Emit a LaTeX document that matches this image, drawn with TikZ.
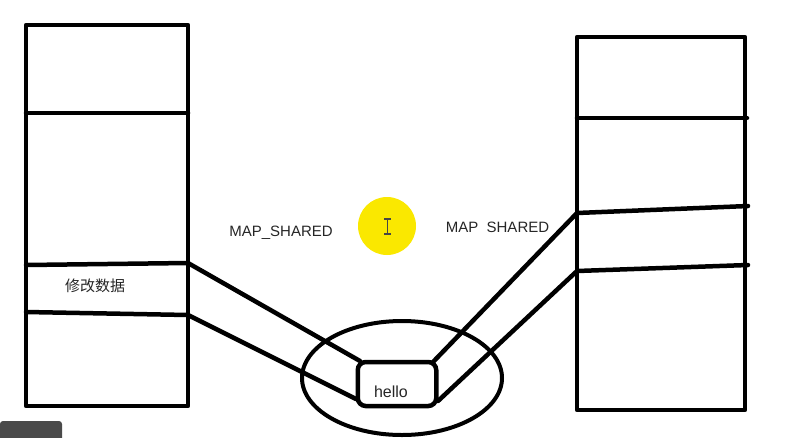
\documentclass[tikz,border=0pt]{standalone}
\usepackage{fontspec}
\setmainfont{Liberation Sans}
\newfontfamily\cjk{Noto Sans CJK SC}
\definecolor{hiyellow}{RGB}{250,232,0}
\definecolor{taskgray}{RGB}{74,74,74}
\definecolor{cursorgray}{RGB}{70,70,70}
\begin{document}
\begin{tikzpicture}[x=1pt,y=-1pt,
  thick line/.style={line width=4.5pt,line cap=round,line join=round},
  lbl/.style={font=\fontsize{15}{18}\selectfont,anchor=base,inner sep=0pt,text=black!85}]
\useasboundingbox (0,0) rectangle (808,437);
\fill[white] (0,0) rectangle (808,437);
% taskbar fragment
\fill[taskgray,rounded corners=3pt] (0,421) -- (62,421) -- (62,445) -- (0,445) -- cycle;
% yellow cursor highlight
\fill[hiyellow] (387,226) circle[radius=29pt];
\draw[cursorgray,line width=1.6pt] (387.5,219) -- (387.5,234)
  (384,219) -- (391,219) (384,234) -- (391,234);
% left memory block
\draw[thick line] (26,25) rectangle (188,406);
\draw[thick line] (26,113) -- (188,113);
\coordinate (L1) at (188,263);
\coordinate (L2) at (188,315);
\draw[thick line] (26,265) -- (L1);
\draw[thick line] (26,312) -- (L2);
\node[lbl,font=\cjk\fontsize{15}{18}\selectfont] (edit) at (95,291) {修改数据};
% right memory block
\draw[thick line] (577,37) rectangle (745,410);
\draw[thick line] (577,118) -- (747,118);
\coordinate (R1) at (577,213);
\coordinate (R2) at (577,271);
\draw[thick line] (R1) -- (748,206);
\draw[thick line] (R2) -- (748,265);
% ellipse and shared page
\draw[line width=4pt] (402,378) ellipse[x radius=100pt,y radius=57pt];
\node[draw,line width=4.5pt,rounded corners=8pt,minimum width=78.5pt,minimum height=44pt,inner sep=0pt] (hello) at (397,384) {};
\node[lbl,font=\fontsize{16}{19}\selectfont] (hellotext) at (391,397) {hello};
\coordinate (H1) at (360,361);
\coordinate (H2) at (356,399);
\coordinate (H3) at (433,362);
\coordinate (H4) at (438,401);
\draw[thick line] (L1) -- (H1);
\draw[thick line] (L2) -- (H2);
\draw[thick line] (R1) -- (H3);
\draw[thick line] (R2) -- (H4);
% labels
\node[lbl] (ms1) at (281,236) {MAP\_SHARED};
\node[lbl] (ms2) at (497.5,232) {MAP\ \ SHARED};
\end{tikzpicture}
\end{document}
